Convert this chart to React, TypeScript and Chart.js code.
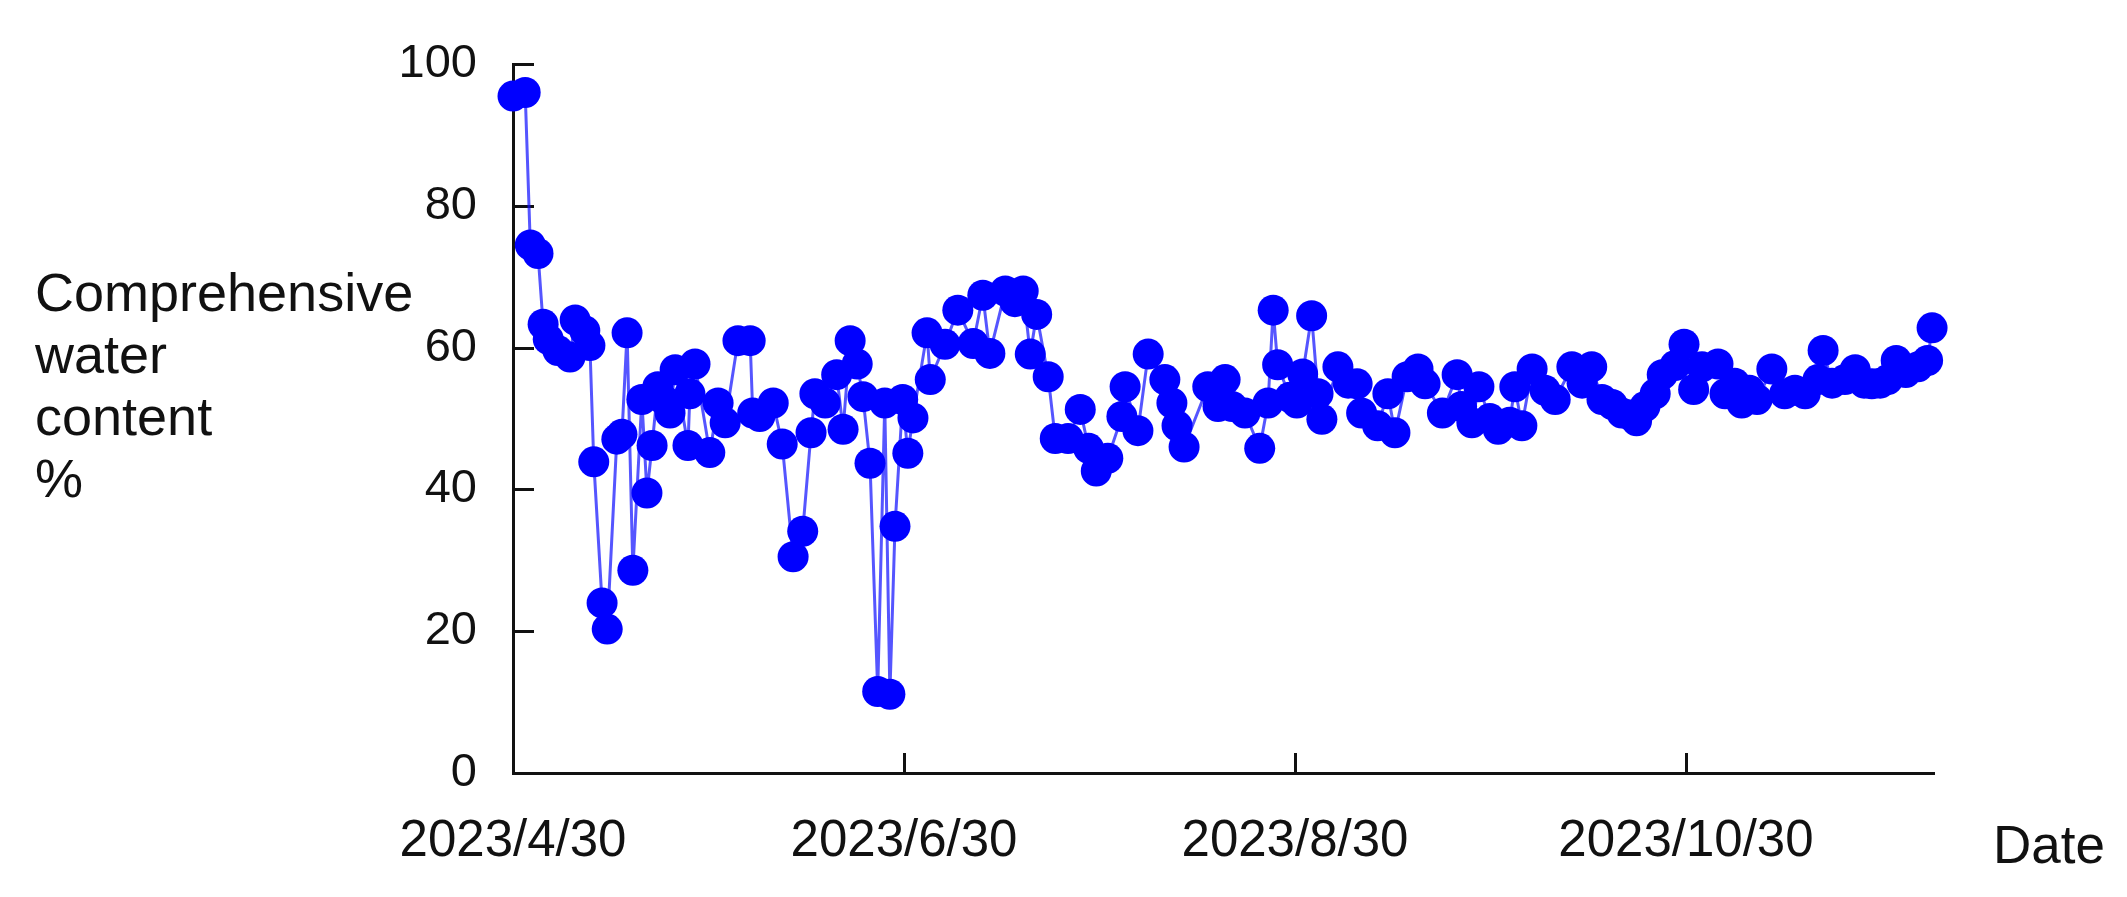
import React, { useEffect, useRef } from 'react';
import { Chart, registerables } from 'chart.js';

Chart.register(...registerables);

// Days elapsed since 2023/4/30 for each sample
const dayOffsets = [
  0, 1.9, 2.7, 3.9, 4.7, 5.5, 7.0, 8.9, 9.7, 11.2,
  12.0, 12.6, 13.9, 14.7, 16.2, 17.0, 17.8, 18.7, 20.1, 20.9,
  21.7, 22.6, 23.7, 24.5, 25.3, 27.3, 27.6, 28.4, 30.7, 32.0,
  33.1, 35.1, 37.0, 37.4, 38.5, 40.6, 42.0, 43.7, 45.2, 46.5,
  47.1, 48.7, 50.5, 51.5, 52.6, 53.7, 54.6, 55.7, 56.9, 58.0,
  58.8, 59.6, 60.8, 61.6, 62.4, 64.6, 65.1, 67.4, 69.4, 71.8,
  73.3, 74.4, 76.8, 78.3, 79.6, 80.7, 81.7, 83.5, 84.6, 86.6,
  88.5, 89.8, 91.0, 92.8, 95.0, 95.5, 97.5, 99.1, 101.7, 102.8,
  103.6, 104.7, 108.4, 110.0, 111.1, 112.2, 114.2, 116.5, 117.8, 118.6,
  119.3, 121.2, 122.3, 123.2, 124.6, 125.6, 126.2, 128.7, 130.3, 131.7,
  132.4, 134.9, 136.5, 137.6, 139.5, 141.2, 142.3, 145.0, 147.3, 148.0,
  149.6, 150.7, 152.4, 153.7, 155.5, 156.3, 157.4, 159.0, 161.0, 162.6,
  165.2, 166.8, 168.3, 169.9, 171.5, 173.0, 174.3, 175.3, 176.6, 178.2,
  179.3, 181.3, 182.7, 184.2, 185.5, 188.0, 189.1, 190.6, 191.7, 192.9,
  194.1, 196.4, 198.4, 200.0, 201.6, 203.6, 204.4, 205.8, 207.8, 209.4,
  210.8, 212.0, 213.3, 214.5, 215.8, 217.3, 219.2, 220.7, 221.4,
];

// Comprehensive water content (%)
const waterContent = [
  95.5, 96.0, 74.5, 73.3, 63.3, 61.2, 59.6, 58.7, 63.9, 62.4,
  60.3, 43.9, 24.0, 20.3, 47.1, 47.8, 62.1, 28.6, 52.7, 39.5,
  46.2, 54.5, 52.5, 50.8, 56.9, 46.2, 53.5, 57.7, 45.2, 52.2,
  49.4, 61.0, 61.0, 50.8, 50.3, 52.2, 46.4, 30.5, 34.1, 48.0,
  53.5, 52.2, 56.2, 48.5, 61.0, 57.7, 53.1, 43.7, 11.5, 52.2,
  11.1, 34.8, 52.7, 45.1, 50.1, 62.1, 55.5, 60.5, 65.3, 60.6,
  67.4, 59.2, 68.0, 66.5, 68.0, 59.1, 64.7, 55.9, 47.2, 47.2,
  51.3, 45.8, 42.6, 44.4, 50.3, 54.5, 48.3, 59.1, 55.5, 52.2,
  49.0, 46.0, 54.5, 51.7, 55.5, 51.7, 50.8, 45.8, 52.2, 65.3,
  57.6, 53.0, 52.2, 56.3, 64.5, 53.5, 49.9, 57.3, 55.0, 54.9,
  50.8, 49.0, 53.5, 48.0, 55.9, 57.0, 54.9, 50.8, 56.2, 51.7,
  49.4, 54.5, 50.0, 48.5, 49.5, 54.5, 49.0, 57.0, 54.0, 52.7,
  57.3, 55.0, 57.3, 52.7, 52.0, 50.8, 50.5, 49.7, 51.7, 53.5,
  56.2, 57.5, 60.5, 54.1, 57.3, 57.7, 53.5, 55.0, 52.2, 54.0,
  52.7, 57.0, 53.5, 54.0, 53.5, 55.5, 59.6, 55.0, 55.5, 56.9,
  55.0, 54.9, 55.0, 55.5, 58.2, 56.5, 57.3, 58.2, 62.8,
];

const xTickDays = [0, 61, 122, 183];
const xTickLabels = ['2023/4/30', '2023/6/30', '2023/8/30', '2023/10/30'];
const yTickValues = [0, 20, 40, 60, 80, 100];
const yTitleLines = ['Comprehensive', 'water', 'content', '%'];
const xTitle = 'Date';

const TEXT = '#111111';
const AXIS = '#111111';
const FONT = '"Liberation Sans", Arial, sans-serif';

export default function App() {
  const ref = useRef<HTMLCanvasElement>(null);

  useEffect(() => {
    const canvas = ref.current;
    if (!canvas) return;

    const overlay = {
      id: 'overlay',
      beforeDatasetsDraw(chart: any) {
        const { ctx, chartArea, scales } = chart;
        ctx.save();
        ctx.strokeStyle = AXIS;
        ctx.lineWidth = 3;
        ctx.beginPath();
        yTickValues.forEach((v) => {
          const y = Math.round(scales.y.getPixelForValue(v)) + 0.5;
          ctx.moveTo(chartArea.left, y);
          ctx.lineTo(chartArea.left + 21, y);
        });
        xTickDays.forEach((d) => {
          if (d === 0) return;
          const x = Math.round(scales.x.getPixelForValue(d)) + 0.5;
          ctx.moveTo(x, chartArea.bottom);
          ctx.lineTo(x, chartArea.bottom - 20);
        });
        ctx.stroke();
        ctx.restore();
      },
      afterDraw(chart: any) {
        const { ctx } = chart;
        ctx.save();
        ctx.fillStyle = TEXT;
        ctx.textAlign = 'left';
        ctx.textBaseline = 'alphabetic';
        ctx.font = `54px ${FONT}`;
        yTitleLines.forEach((line, i) => {
          ctx.fillText(line, 35, 311 + i * 62);
        });
        ctx.font = `53px ${FONT}`;
        ctx.fillText(xTitle, 1993, 863);
        ctx.restore();
      },
    };

    const chart = new Chart(canvas, {
      type: 'line',
      data: {
        datasets: [
          {
            data: dayOffsets.map((d, i) => ({ x: d, y: waterContent[i] })),
            borderColor: 'rgba(20,20,255,0.72)',
            borderWidth: 3,
            pointRadius: 15.5,
            pointHoverRadius: 15.5,
            pointBackgroundColor: '#0000ff',
            pointBorderWidth: 0,
            tension: 0,
            clip: false,
          },
        ],
      },
      options: {
        responsive: false,
        animation: false,
        devicePixelRatio: 1,
        layout: { padding: { left: 0, top: 52, right: 193, bottom: 0 } },
        plugins: {
          legend: { display: false },
          tooltip: { enabled: false },
          title: { display: false },
        },
        scales: {
          x: {
            type: 'linear',
            min: 0,
            max: 221.7,
            afterBuildTicks: (s: any) => {
              s.ticks = xTickDays.map((v) => ({ value: v }));
            },
            afterFit: (s: any) => {
              s.height = 124;
            },
            grid: { display: false, drawTicks: false },
            border: { display: true, color: AXIS, width: 3 },
            ticks: {
              autoSkip: false,
              maxRotation: 0,
              minRotation: 0,
              padding: 38,
              color: TEXT,
              font: { family: FONT, size: 51 },
              callback: (v: any) => {
                const i = xTickDays.indexOf(Number(v));
                return i >= 0 ? xTickLabels[i] : '';
              },
            },
          },
          y: {
            type: 'linear',
            min: 0,
            max: 100,
            afterBuildTicks: (s: any) => {
              s.ticks = yTickValues.map((v) => ({ value: v }));
            },
            afterFit: (s: any) => {
              s.width = 513;
            },
            grid: { display: false, drawTicks: false },
            border: { display: true, color: AXIS, width: 3 },
            ticks: {
              padding: 36,
              color: TEXT,
              font: { family: FONT, size: 47 },
              callback: (v: any) => String(v),
            },
          },
        },
      },
      plugins: [overlay],
    });

    return () => chart.destroy();
  }, []);

  return (
    <div style={{ position: 'fixed', left: 0, top: 0, width: 2127, height: 897, background: '#ffffff' }}>
      <canvas ref={ref} width={2127} height={897} style={{ display: 'block', width: 2127, height: 897 }} />
    </div>
  );
}
